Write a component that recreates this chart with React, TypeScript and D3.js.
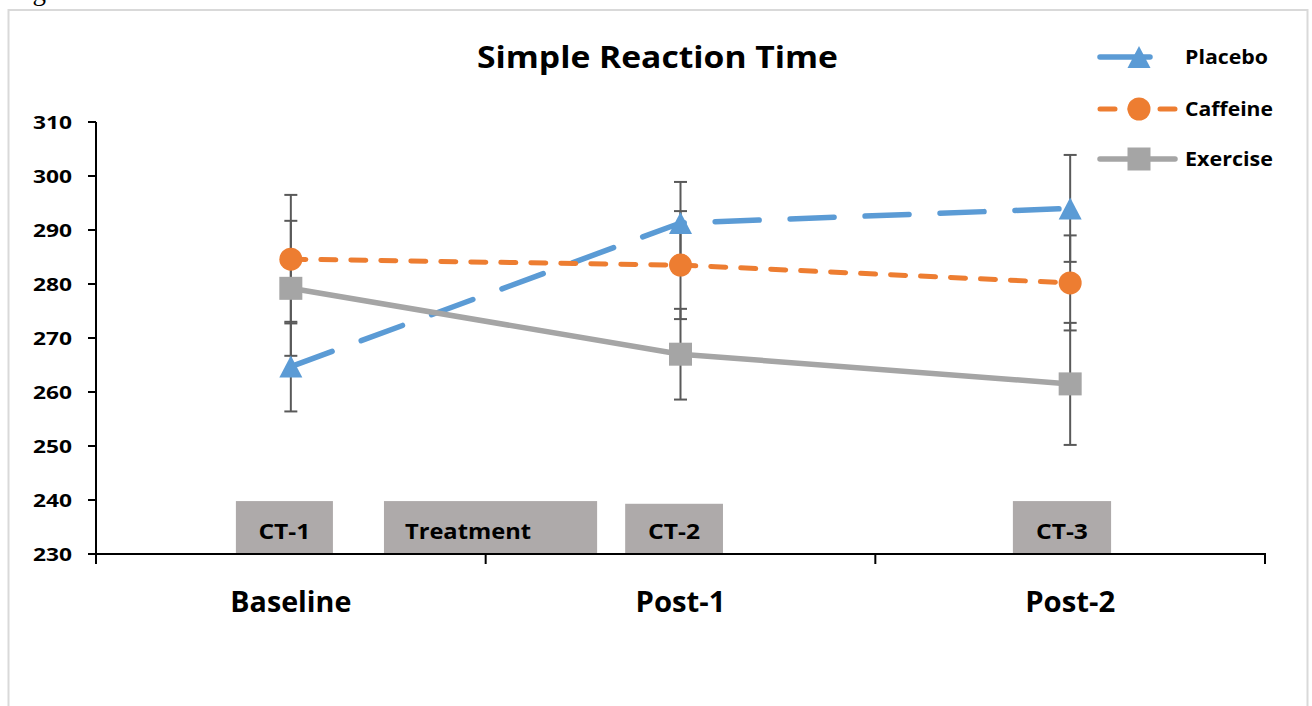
import React from "react";
import * as d3 from "d3";

const categories = ["Baseline", "Post-1", "Post-2"];
const yTicks = [230, 240, 250, 260, 270, 280, 290, 300, 310];

const placeboValues = [264.7, 291.3, 294.0];
const placeboErrors = [8.3, 7.6, 9.9];
const caffeineValues = [284.6, 283.5, 280.2];
const caffeineErrors = [11.9, 10.0, 8.8];
const exerciseValues = [279.2, 267.0, 261.5];
const exerciseErrors = [12.5, 8.4, 11.3];

const seriesNames = ["Placebo", "Caffeine", "Exercise"];

// phase annotations: start/end in category-index units, top value in y units
const phaseLabels = ["CT-1", "Treatment", "CT-2", "CT-3"];
const phaseStart = [-0.141, 0.239, 0.858, 1.853];
const phaseEnd = [0.108, 0.786, 1.109, 2.105];
const phaseTop = [239.8, 239.8, 239.3, 239.8];

const W = 1312;
const H = 706;
const FONT = "'Open Sans', 'Noto Sans', sans-serif";

const COLORS = ["#5B9BD5", "#ED7D31", "#A5A5A5"];
const DASHES = ["44 31", "15 15", null];
const WIDTHS = [5.5, 5, 5.5];

function Marker({ kind, x, y, color }: { kind: number; x: number; y: number; color: string }) {
  if (kind === 0) {
    const s = 23;
    const h = 22;
    const pts = [
      [x, y - h / 2],
      [x + s / 2, y + h / 2],
      [x - s / 2, y + h / 2],
    ];
    return <polygon points={pts.map((p) => p.join(",")).join(" ")} fill={color} />;
  }
  if (kind === 1) return <circle cx={x} cy={y} r={11.5} fill={color} />;
  return <rect x={x - 11.5} y={y - 11.5} width={23} height={23} fill={color} />;
}

export default function App() {
  const y = d3.scaleLinear().domain([230, 310]).range([554, 122]);
  const x = d3.scaleBand().domain(categories).range([96, 1265]).paddingInner(0).paddingOuter(0);
  const cx = (c: string) => (x(c) as number) + x.bandwidth() / 2;
  const xIdx = d3.scaleLinear().domain([-0.5, categories.length - 0.5]).range([96, 1265]);

  const values = [placeboValues, caffeineValues, exerciseValues];
  const errors = [placeboErrors, caffeineErrors, exerciseErrors];

  const line = d3
    .line<number>()
    .x((_, i) => cx(categories[i]))
    .y((v) => y(v));

  const legendY = [57, 109, 159];

  return (
    <svg
      width={W}
      height={H}
      style={{ position: "absolute", left: 0, top: 0, background: "#fff" }}
      fontFamily={FONT}
    >
      <rect x={0} y={0} width={W} height={H} fill="#fff" />
      <text x={10} y={0} fontFamily="'Liberation Serif', serif" fontSize={27} fill="#000">
        Figure 3.5
      </text>
      <rect x={8.5} y={10} width={1299} height={720} fill="#fff" stroke="#D9D9D9" strokeWidth={2} />

      {/* title */}
      <text x={657.5} y={68} textAnchor="middle" fontSize={30.5} fontWeight={700} textLength={361} lengthAdjust="spacingAndGlyphs">
        Simple Reaction Time
      </text>

      {/* phase boxes */}
      {phaseLabels.map((lab, i) => {
        const x0 = xIdx(phaseStart[i]);
        const x1 = xIdx(phaseEnd[i]);
        const top = y(phaseTop[i]);
        const isWide = lab === "Treatment";
        return (
          <g key={lab}>
            <rect x={x0} y={top} width={x1 - x0} height={y(230) - top} fill="#AEAAAA" />
            <text
              x={isWide ? x0 + 21 : (x0 + x1) / 2}
              y={539}
              textAnchor={isWide ? "start" : "middle"}
              fontSize={22}
              fontWeight={700}
              textLength={isWide ? 126 : 52}
              lengthAdjust="spacingAndGlyphs"
            >
              {lab}
            </text>
          </g>
        );
      })}

      {/* y axis */}
      <line x1={96} x2={96} y1={y(310)} y2={y(230)} stroke="#000" strokeWidth={2} />
      {yTicks.map((t) => (
        <g key={t}>
          <line x1={88} x2={96} y1={y(t)} y2={y(t)} stroke="#000" strokeWidth={2} />
          <text x={72} y={y(t) + 6.7} textAnchor="end" fontSize={18.5} fontWeight={700} textLength={39} lengthAdjust="spacingAndGlyphs">
            {t}
          </text>
        </g>
      ))}

      {/* x axis */}
      <line x1={95} x2={1266} y1={y(230)} y2={y(230)} stroke="#000" strokeWidth={2} />
      {[...categories.map((c) => x(c) as number), 1265].map((bx, i) => (
        <line key={i} x1={bx} x2={bx} y1={y(230)} y2={y(230) + 10} stroke="#000" strokeWidth={2} />
      ))}
      {categories.map((c, i) => (
        <text
          key={c}
          x={cx(c)}
          y={612}
          textAnchor="middle"
          fontSize={29}
          fontWeight={700}
          textLength={i === 0 ? 121 : 90}
          lengthAdjust="spacingAndGlyphs"
        >
          {c}
        </text>
      ))}

      {/* error bars */}
      {values.map((vals, s) =>
        vals.map((v, i) => {
          const px = cx(categories[i]);
          const hi = y(v + errors[s][i]);
          const lo = y(v - errors[s][i]);
          return (
            <g key={`e${s}-${i}`} stroke="#595959" strokeWidth={2}>
              <line x1={px} x2={px} y1={hi} y2={lo} />
              <line x1={px - 6.5} x2={px + 6.5} y1={hi} y2={hi} />
              <line x1={px - 6.5} x2={px + 6.5} y1={lo} y2={lo} />
            </g>
          );
        })
      )}

      {/* lines */}
      {values.map((vals, s) => (
        <path
          key={`l${s}`}
          d={line(vals) as string}
          fill="none"
          stroke={COLORS[s]}
          strokeWidth={WIDTHS[s]}
          strokeDasharray={DASHES[s] ?? undefined}
          strokeLinecap="round"
          strokeLinejoin="round"
        />
      ))}

      {/* markers */}
      {values.map((vals, s) =>
        vals.map((v, i) => <Marker key={`m${s}-${i}`} kind={s} x={cx(categories[i])} y={y(v)} color={COLORS[s]} />)
      )}

      {/* legend */}
      {seriesNames.map((n, s) => (
        <g key={n}>
          <line
            x1={1100}
            x2={1175}
            y1={legendY[s]}
            y2={legendY[s]}
            stroke={COLORS[s]}
            strokeWidth={WIDTHS[s]}
            strokeDasharray={s === 0 ? "50 30" : DASHES[s] ?? undefined}
            strokeLinecap="round"
          />
          <Marker kind={s} x={1139} y={legendY[s]} color={COLORS[s]} />
          <text x={1185} y={legendY[s] + 7} fontSize={20} fontWeight={700} textLength={s === 0 ? 83 : 88} lengthAdjust="spacingAndGlyphs">
            {n}
          </text>
        </g>
      ))}
    </svg>
  );
}
